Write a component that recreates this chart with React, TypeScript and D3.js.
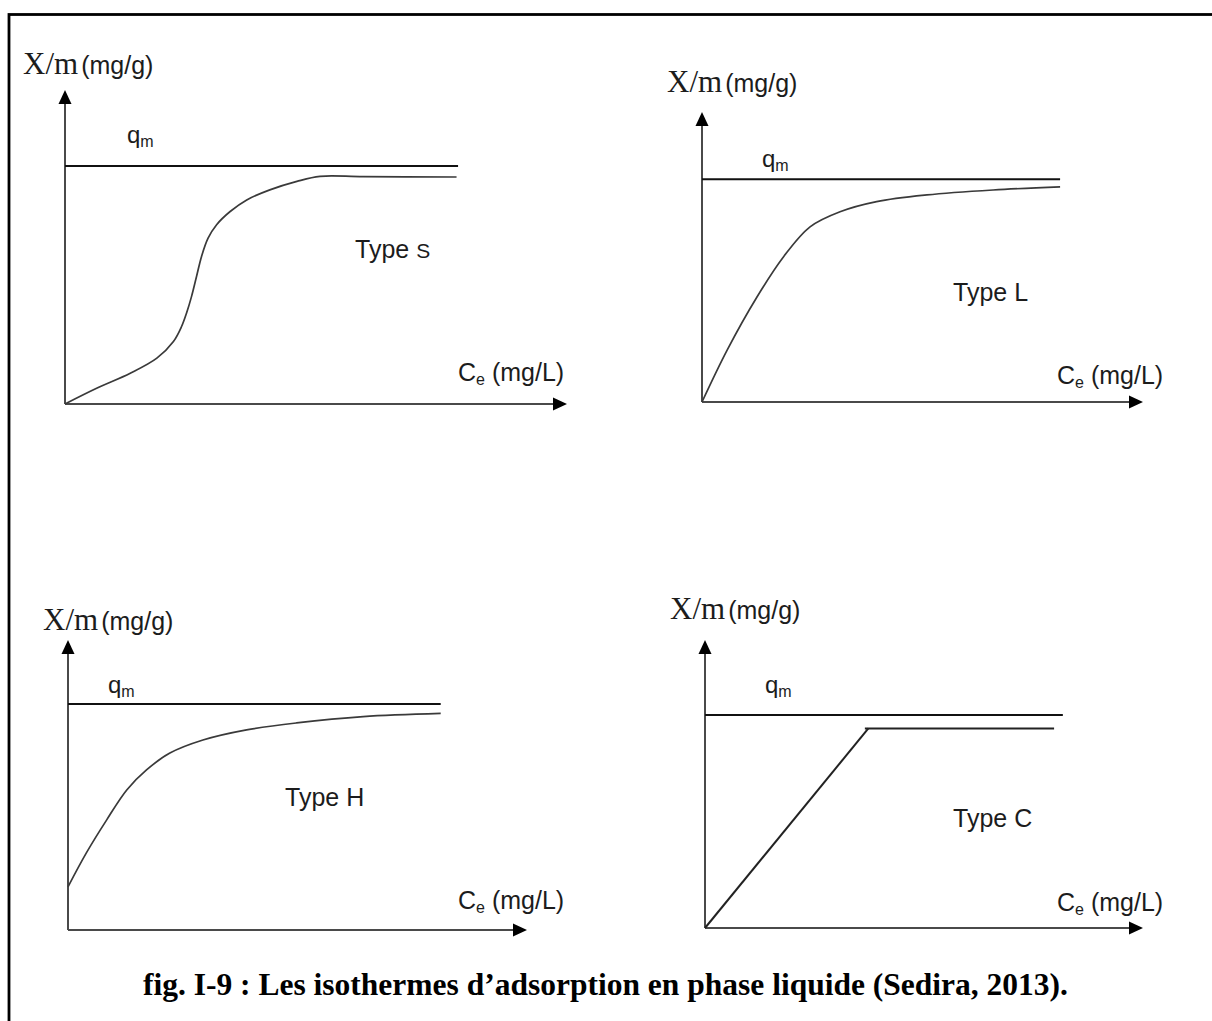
import React from 'react';
import * as d3 from 'd3';

const W = 1212;
const H = 1021;

// Data in relative units: Ce (0..100 along x-axis), X/m (0..100 along y-axis)
const typeS_ce = [0, 6.3, 13.0, 18.3, 21.6, 23.2, 24.2, 25.2, 26.2, 27.2, 28.5, 30.2, 32.9, 36.2, 40.8, 46.2, 50.8, 59.4, 78.0];
const typeS_q = [0, 5.0, 9.8, 14.6, 19.9, 24.6, 28.9, 34.2, 40.6, 47.0, 52.8, 57.1, 61.3, 65.0, 68.2, 70.9, 72.5, 72.4, 72.3];

const typeL_ce = [0, 5.7, 12.5, 18.5, 24.5, 31.3, 39.6, 51.0, 66.0, 81.2];
const typeL_q = [0, 17.9, 36.3, 50.1, 60.4, 65.6, 69.1, 71.4, 73.1, 74.2];

const typeH_ce = [0, 4.0, 8.4, 12.8, 17.1, 22.2, 29.4, 38.9, 49.8, 64.3, 81.2];
const typeH_q = [14.9, 26.6, 37.9, 48.3, 55.2, 61.0, 65.5, 69.0, 71.4, 73.6, 74.7];

const typeC_ce = [0, 37.3];
const typeC_q = [0, 69.3];
const typeC_plateau_ce = [36.5, 79.7];
const typeC_plateau_q = [69.3, 69.3];

const qmLevels = [75.8, 76.8, 77.9, 74.0];
const qmEnds = [78.3, 81.2, 81.2, 81.7];
const typeLabels = ['Type ', 'Type L', 'Type H', 'Type C'];

const title = 'fig. I-9 : Les isothermes d\u2019adsorption en phase liquide (Sedira, 2013).';

// Layout (pixels)
const panels = [
  { ox: 65, oy: 404, xt: 567, yt: 90, xm: [23, 74], qm: [127, 143], type: [355, 258], ce: [458, 381] },
  { ox: 702, oy: 402, xt: 1143, yt: 112, xm: [667, 92], qm: [762, 167], type: [953, 301], ce: [1057, 384] },
  { ox: 68, oy: 930, xt: 527, yt: 640, xm: [43, 630], qm: [108, 693], type: [285, 806], ce: [458, 909] },
  { ox: 705, oy: 928, xt: 1143, yt: 640, xm: [670, 619], qm: [765, 693], type: [953, 827], ce: [1057, 911] },
];

const curves: Array<Array<[number[], number[]]>> = [
  [[typeS_ce, typeS_q]],
  [[typeL_ce, typeL_q]],
  [[typeH_ce, typeH_q]],
  [[typeC_ce, typeC_q], [typeC_plateau_ce, typeC_plateau_q]],
];

const SERIF = '"Liberation Serif", "Times New Roman", serif';
const SANS = '"Liberation Sans", Arial, sans-serif';
const TXT = '#1c1c1c';

function Panel({ idx }: { idx: number }) {
  const p = panels[idx];
  const x = d3.scaleLinear().domain([0, 100]).range([p.ox, p.xt]);
  const y = d3.scaleLinear().domain([0, 100]).range([p.oy, p.yt]);
  const smooth = idx === 3 ? d3.curveLinear : d3.curveCatmullRom.alpha(0.5);
  const line = d3
    .line<[number, number]>()
    .x((d) => x(d[0]))
    .y((d) => y(d[1]))
    .curve(smooth);
  const ah = 14;
  const aw = 6.5;
  const x0 = x(0);
  const y0 = y(0);
  const xT = x(100);
  const yT = y(100);
  return (
    <g>
      {/* axes */}
      <line x1={x0} y1={y0} x2={x0} y2={yT + ah - 1} stroke="#4a4a4a" strokeWidth={2} />
      <line x1={x0} y1={y0} x2={xT - ah + 1} y2={y0} stroke="#4a4a4a" strokeWidth={2} />
      <path d={`M${x0},${yT} L${x0 - aw},${yT + ah} L${x0 + aw},${yT + ah} Z`} fill="#000" />
      <path d={`M${xT},${y0} L${xT - ah},${y0 - aw} L${xT - ah},${y0 + aw} Z`} fill="#000" />
      {/* qm line */}
      <line
        x1={x0}
        x2={x(qmEnds[idx])}
        y1={y(qmLevels[idx])}
        y2={y(qmLevels[idx])}
        stroke="#111"
        strokeWidth={2}
      />
      {/* isotherm */}
      {curves[idx].map((c, i) => {
        const pts = c[0].map((v, j) => [v, c[1][j]] as [number, number]);
        return (
          <path
            key={i}
            d={line(pts) || ''}
            fill="none"
            stroke={idx === 3 ? '#222' : '#3a3a3a'}
            strokeWidth={idx === 3 ? 2 : 1.7}
          />
        );
      })}
      {/* labels */}
      <text x={p.xm[0]} y={p.xm[1]} fill={TXT}>
        <tspan fontFamily={SERIF} fontSize={31}>X/m</tspan>
        <tspan fontFamily={SANS} fontSize={25} dx={3}>(mg/g)</tspan>
      </text>
      <text x={p.qm[0]} y={p.qm[1]} fill={TXT} fontFamily={SANS}>
        <tspan fontSize={24}>q</tspan>
        <tspan fontSize={16} dy={4}>m</tspan>
      </text>
      <text x={p.type[0]} y={p.type[1]} fill={TXT} fontFamily={SANS} fontSize={25}>
        <tspan>{typeLabels[idx]}</tspan>
        {idx === 0 ? <tspan fontSize={21}>S</tspan> : null}
      </text>
      <text x={p.ce[0]} y={p.ce[1]} fill={TXT} fontFamily={SANS}>
        <tspan fontSize={25}>C</tspan>
        <tspan fontSize={16} dy={4}>e</tspan>
        <tspan fontSize={25} dy={-4}> (mg/L)</tspan>
      </text>
    </g>
  );
}

export default function App() {
  return (
    <div style={{ position: 'absolute', left: 0, top: 0, width: W, height: H, overflow: 'hidden', background: '#fff' }}>
      <svg width={W} height={H} viewBox={`0 0 ${W} ${H}`} style={{ display: 'block' }}>
        <rect x={0} y={0} width={W} height={H} fill="#fff" />
        <rect x={9} y={14.5} width={W + 20} height={H + 20} fill="none" stroke="#000" strokeWidth={2.8} />
        {panels.map((_, i) => (
          <Panel key={i} idx={i} />
        ))}
        <text
          x={143}
          y={995}
          fontFamily={SERIF}
          fontWeight="bold"
          fontSize={31.5}
          fill="#000"
        >
          {title}
        </text>
      </svg>
    </div>
  );
}
